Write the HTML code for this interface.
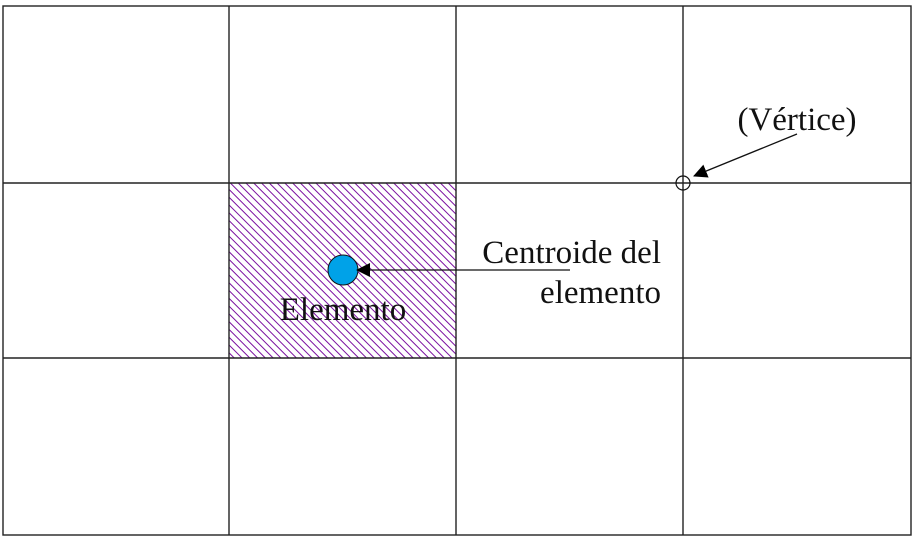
<!DOCTYPE html>
<html><head><meta charset="utf-8"><style>
body{margin:0;background:#fff}
text{font-family:"Liberation Serif",serif;font-size:33px;fill:#111}
</style></head><body>
<svg width="915" height="543" viewBox="0 0 915 543">
<defs>
<pattern id="hatch" patternUnits="userSpaceOnUse" width="5.5" height="5.5" patternTransform="rotate(-45)">
<line x1="0" y1="0" x2="0" y2="5.5" stroke="#7a10a0" stroke-width="2"/>
</pattern>
<marker id="ah" markerWidth="14" markerHeight="14" refX="13" refY="7" orient="auto" markerUnits="userSpaceOnUse">
<path d="M0,0 L14,7 L0,14 Z" fill="#000"/>
</marker>
</defs>
<rect x="229" y="183" width="227" height="175" fill="url(#hatch)"/>
<g stroke="#222" stroke-width="1.4" fill="none">
<rect x="3" y="6" width="908" height="529"/>
<line x1="229" y1="6" x2="229" y2="535"/>
<line x1="456" y1="6" x2="456" y2="535"/>
<line x1="683" y1="6" x2="683" y2="535"/>
<line x1="3" y1="183" x2="911" y2="183"/>
<line x1="3" y1="358" x2="911" y2="358"/>
</g>
<circle cx="343" cy="270" r="15" fill="#00a2e8" stroke="#111" stroke-width="1"/>
<line x1="570" y1="270" x2="357" y2="270" stroke="#111" stroke-width="1.3" marker-end="url(#ah)"/>
<circle cx="683" cy="183" r="7" fill="none" stroke="#111" stroke-width="1.2"/>
<line x1="797" y1="134" x2="694" y2="176" stroke="#111" stroke-width="1.3" marker-end="url(#ah)"/>
<text x="797" y="130" text-anchor="middle">(Vértice)</text>
<text x="661" y="263" text-anchor="end">Centroide del</text>
<text x="661" y="303" text-anchor="end">elemento</text>
<text x="343" y="320" text-anchor="middle">Elemento</text>
</svg>
</body></html>
